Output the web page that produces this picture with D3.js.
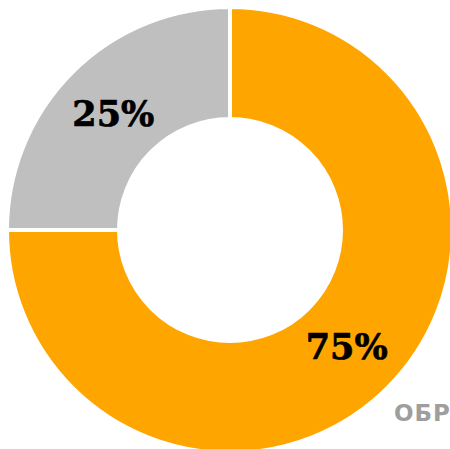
<!DOCTYPE html>
<html><head><meta charset="utf-8">
<script src="https://cdn.jsdelivr.net/npm/d3@7"></script>
<style>html,body{margin:0;padding:0;background:#fff;overflow:hidden}</style>
</head><body>
<svg id="c" width="450" height="449"></svg>
<script>
const categories = ["Да", "Нет"];
const values = [75, 25];
const labels = ["75%", "25%"];
const colors = ["#FFA500", "#BFBFBF"];
const caption = "ОБРАЗОВАНИЕ";

const svg = d3.select("#c");
const cx = 230, cy = 230;
const g = svg.append("g").attr("transform", `translate(${cx},${cy})`);
const pie = d3.pie().sort(null).value(d => d);
const arcs = pie(values);
const arc = d3.arc().innerRadius(111).outerRadius(223);
const labelArc = d3.arc().innerRadius(165).outerRadius(165);

g.selectAll("path").data(arcs).enter().append("path")
  .attr("d", arc)
  .attr("fill", (d, i) => colors[i])
  .attr("stroke", "#fff").attr("stroke-width", 4);

g.selectAll("text.lbl").data(arcs).enter().append("text")
  .attr("class", "lbl")
  .attr("transform", d => { const c = labelArc.centroid(d); return `translate(${c[0]},${c[1]})`; })
  .attr("text-anchor", "middle")
  .attr("dy", "0.36em")
  .attr("font-family", "DejaVu Serif")
  .attr("font-weight", "bold")
  .attr("font-size", 35)
  .attr("fill", "#000")
  .attr("stroke", "#000").attr("stroke-width", 0.7)
  .text((d, i) => labels[i]);

svg.append("text")
  .attr("x", 394).attr("y", 421)
  .attr("font-family", "DejaVu Sans")
  .attr("font-weight", "bold")
  .attr("font-size", 23)
  .attr("letter-spacing", 1)
  .attr("fill", "#9E9E9E")
  .text(caption);
</script>
</body></html>
